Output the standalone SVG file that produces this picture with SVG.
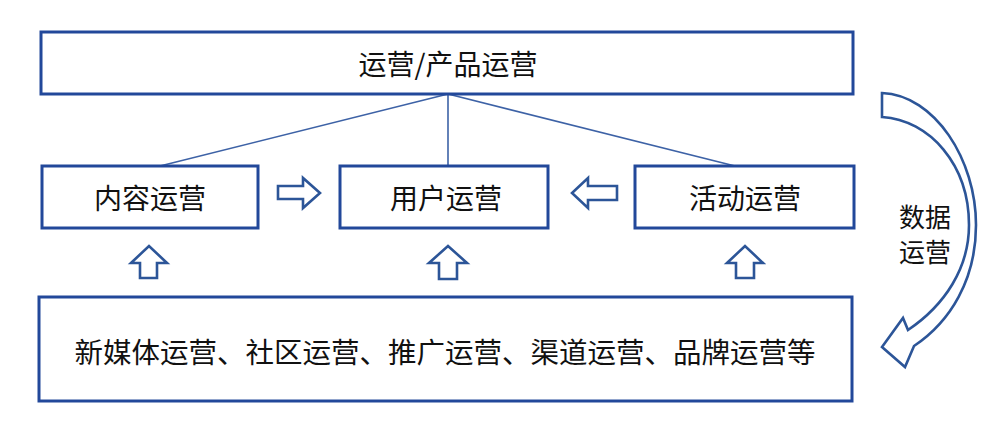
<svg xmlns="http://www.w3.org/2000/svg" width="1004" height="432" viewBox="0 0 1004 432">
<style>
.box{fill:#ffffff;stroke:#22489a;stroke-width:3}
.lbl{font-family:"Noto Sans CJK SC","Liberation Sans",sans-serif;font-size:28px;fill:#111;text-anchor:middle;dominant-baseline:central}
.conn{stroke:#3d62a6;stroke-width:1.6;fill:none}
.arr{fill:#ffffff;stroke:#2c5598;stroke-width:2.6;stroke-linejoin:miter}
</style>
<rect width="1004" height="432" fill="#ffffff"/>
<g id="connectors">
<line class="conn" x1="448" y1="94" x2="160" y2="166"/>
<line class="conn" x1="448" y1="94" x2="448" y2="166"/>
<line class="conn" x1="448" y1="94" x2="735" y2="166"/>
<path class="arr" d="M278,186 L303,186 L303,178 L320,193 L303,208 L303,199 L278,199 Z"/>
<path class="arr" d="M617,186 L588,186 L588,178 L572,193 L588,208 L588,200 L617,200 Z"/>
<path class="arr" d="M140,278 L140,263 L131,263 L149,246 L167,263 L157,263 L157,278 Z"/>
<path class="arr" d="M439,279 L439,263 L429,263 L448,246 L467,263 L457,263 L457,279 Z"/>
<path class="arr" d="M736,278 L736,263 L727,263 L745,246 L763,263 L754,263 L754,278 Z"/>
<path class="arr" d="M882,93 C935,95 976,160 976,225 C976,280 950,322 914,346 L905,367 L882,347 L903,318 L908,330 C945,305 969,268 969,225 C969,165 930,120 882,117 Z"/>
</g>
<g id="top">
<rect class="box" x="41" y="32" width="812" height="62"/>
<text class="lbl" x="448" y="63">运营/产品运营</text>
</g>
<g id="content">
<rect class="box" x="42" y="166" width="216" height="62"/>
<text class="lbl" x="150" y="197">内容运营</text>
</g>
<g id="user">
<rect class="box" x="340" y="166" width="208" height="62"/>
<text class="lbl" x="446" y="197">用户运营</text>
</g>
<g id="activity">
<rect class="box" x="635" y="166" width="219" height="62"/>
<text class="lbl" x="745" y="197">活动运营</text>
</g>
<g id="bottom">
<rect class="box" x="39" y="297" width="813" height="104"/>
<text class="lbl" x="445" y="350" style="font-size:28.5px">新媒体运营、社区运营、推广运营、渠道运营、品牌运营等</text>
</g>
<g id="data">
<text class="lbl" x="925" y="215" style="font-size:26px">数据</text>
<text class="lbl" x="925" y="250" style="font-size:26px">运营</text>
</g>
</svg>
